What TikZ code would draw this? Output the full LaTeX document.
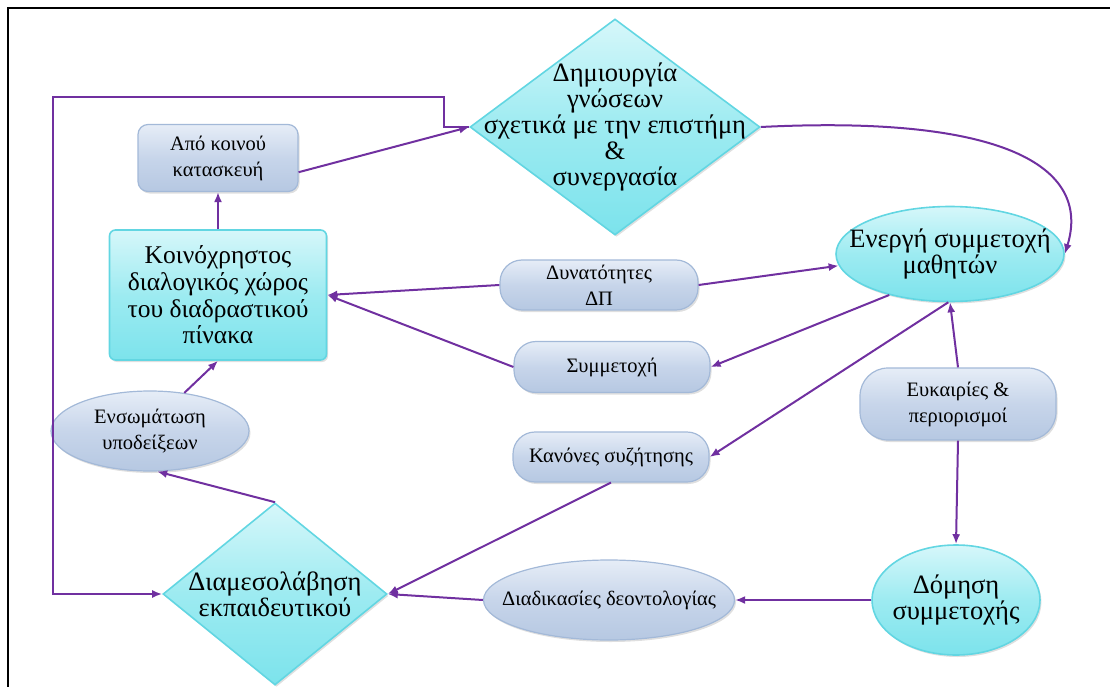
\documentclass[tikz,border=0pt]{standalone}
\usepackage{fontspec}
\setmainfont{Liberation Serif}
\usetikzlibrary{arrows.meta,shapes.geometric,shadows}
\definecolor{arrc}{HTML}{7030A0}
\definecolor{cyTop}{HTML}{D6F7FA}
\definecolor{cyMid}{HTML}{9DEBF1}
\definecolor{cyBot}{HTML}{7CE3EC}
\definecolor{cyEdge}{HTML}{62D6E2}
\definecolor{bgTop}{HTML}{E6EDF7}
\definecolor{bgMid}{HTML}{C7D5EA}
\definecolor{bgBot}{HTML}{B6C8E2}
\definecolor{bgEdge}{HTML}{A3B9D8}
\tikzset{
  shad/.style={drop shadow={opacity=0.25,shadow xshift=1.5pt,shadow yshift=-2pt}},
  cyanshape/.style={draw=cyEdge,line width=1.6pt,top color=cyTop,bottom color=cyBot,middle color=cyMid,shad},
  grayshape/.style={draw=bgEdge,line width=1.2pt,top color=bgTop,bottom color=bgBot,middle color=bgMid,shad},
  arr/.style={draw=arrc,line width=2pt,-{Latex[length=10pt,width=8pt]}},
  txt/.style={align=center,text=black,inner sep=0pt},
  big/.style={font=\fontsize{25.5}{26.7}\selectfont},
  mid/.style={font=\fontsize{26.5}{26}\selectfont},
  sml/.style={font=\fontsize{20.5}{26}\selectfont},
}
\begin{document}
\begin{tikzpicture}[x=1pt,y=-1pt]
\useasboundingbox (0,0) rectangle (1110,687);
\draw[line width=2.5pt] (8,690) -- (8,8) -- (1112,8);

% nodes
\node[diamond,cyanshape,minimum width=290,minimum height=216,inner sep=0pt,
  label={[txt,mid]center:{Δημιουργία\\γνώσεων\\σχετικά με την επιστήμη\\\&\\συνεργασία}}] (d1) at (615,127) {};
\node[grayshape,rounded corners=10pt,minimum width=160,minimum height=67,txt,sml] (ak) at (218,158) {Από κοινού\\κατασκευή};
\node[cyanshape,rounded corners=6pt,minimum width=217,minimum height=130,txt,big] (kx) at (218,295) {Κοινόχρηστος\\διαλογικός χώρος\\του διαδραστικού\\πίνακα};
\node[grayshape,rounded corners=22pt,minimum width=198,minimum height=50,txt,sml] (dy) at (599,285) {Δυνατότητες\\ΔΠ};
\node[grayshape,rounded corners=22pt,minimum width=196,minimum height=51,txt,sml] (sy) at (612,367) {Συμμετοχή};
\node[grayshape,rounded corners=22pt,minimum width=196,minimum height=50,txt,sml] (kn) at (611,457) {Κανόνες συζήτησης};
\node[ellipse,cyanshape,minimum width=228,minimum height=95,inner sep=0pt,
  label={[txt,mid]center:{Ενεργή συμμετοχή\\μαθητών}}] (e1) at (950,254) {};
\node[grayshape,rounded corners=28pt,minimum width=196,minimum height=72,txt,sml] (eu) at (958,404) {Ευκαιρίες \&\\περιορισμοί};
\node[ellipse,cyanshape,minimum width=168,minimum height=110,inner sep=0pt,
  label={[txt,mid]center:{Δόμηση\\συμμετοχής}}] (dm) at (956,600) {};
\node[ellipse,grayshape,minimum width=251,minimum height=80,inner sep=0pt,
  label={[txt,sml]center:{Διαδικασίες δεοντολογίας}}] (dd) at (609,600) {};
\node[diamond,cyanshape,minimum width=224,minimum height=182,inner sep=0pt,
  label={[txt,mid]center:{Διαμεσολάβηση\\εκπαιδευτικού}}] (d2) at (275,594) {};
\node[ellipse,grayshape,minimum width=198,minimum height=80,inner sep=0pt,
  label={[txt,sml]center:{Ενσωμάτωση\\υποδείξεων}}] (en) at (150,431) {};

% connectors
\draw[arr] (kx.north) -- (ak.south);
\draw[arr] (ak.-10) -- (d1.west);
\draw[arr] (d1.east) .. controls (1000,115) and (1092,165) .. (e1.east);
\draw[arr] (dy.west) -- (kx.east);
\draw[arr] (sy.west) -- (kx.east);
\draw[arr] (dy.east) -- (e1.186);
\draw[arr] (e1.214) -- (sy.east);
\draw[arr] (e1.268) -- (kn.east);
\draw[arr] (eu.north) -- (e1.south);
\draw[arr] (eu.south) -- (dm.north);
\draw[arr] (dm.west) -- (dd.east);
\draw[arr] (dd.west) -- (d2.east);
\draw[arr] (kn.south) -- (d2.east);
\draw[arr] (d2.north) -- (en.-80);
\draw[arr] (en.48) -- (kx.south);
\coordinate (lpA) at (444,97);
\coordinate (lpB) at (53,97);
\draw[arr] (d1.west) -| (lpA) -- (lpB) |- (d2.west);
\end{tikzpicture}
\end{document}
